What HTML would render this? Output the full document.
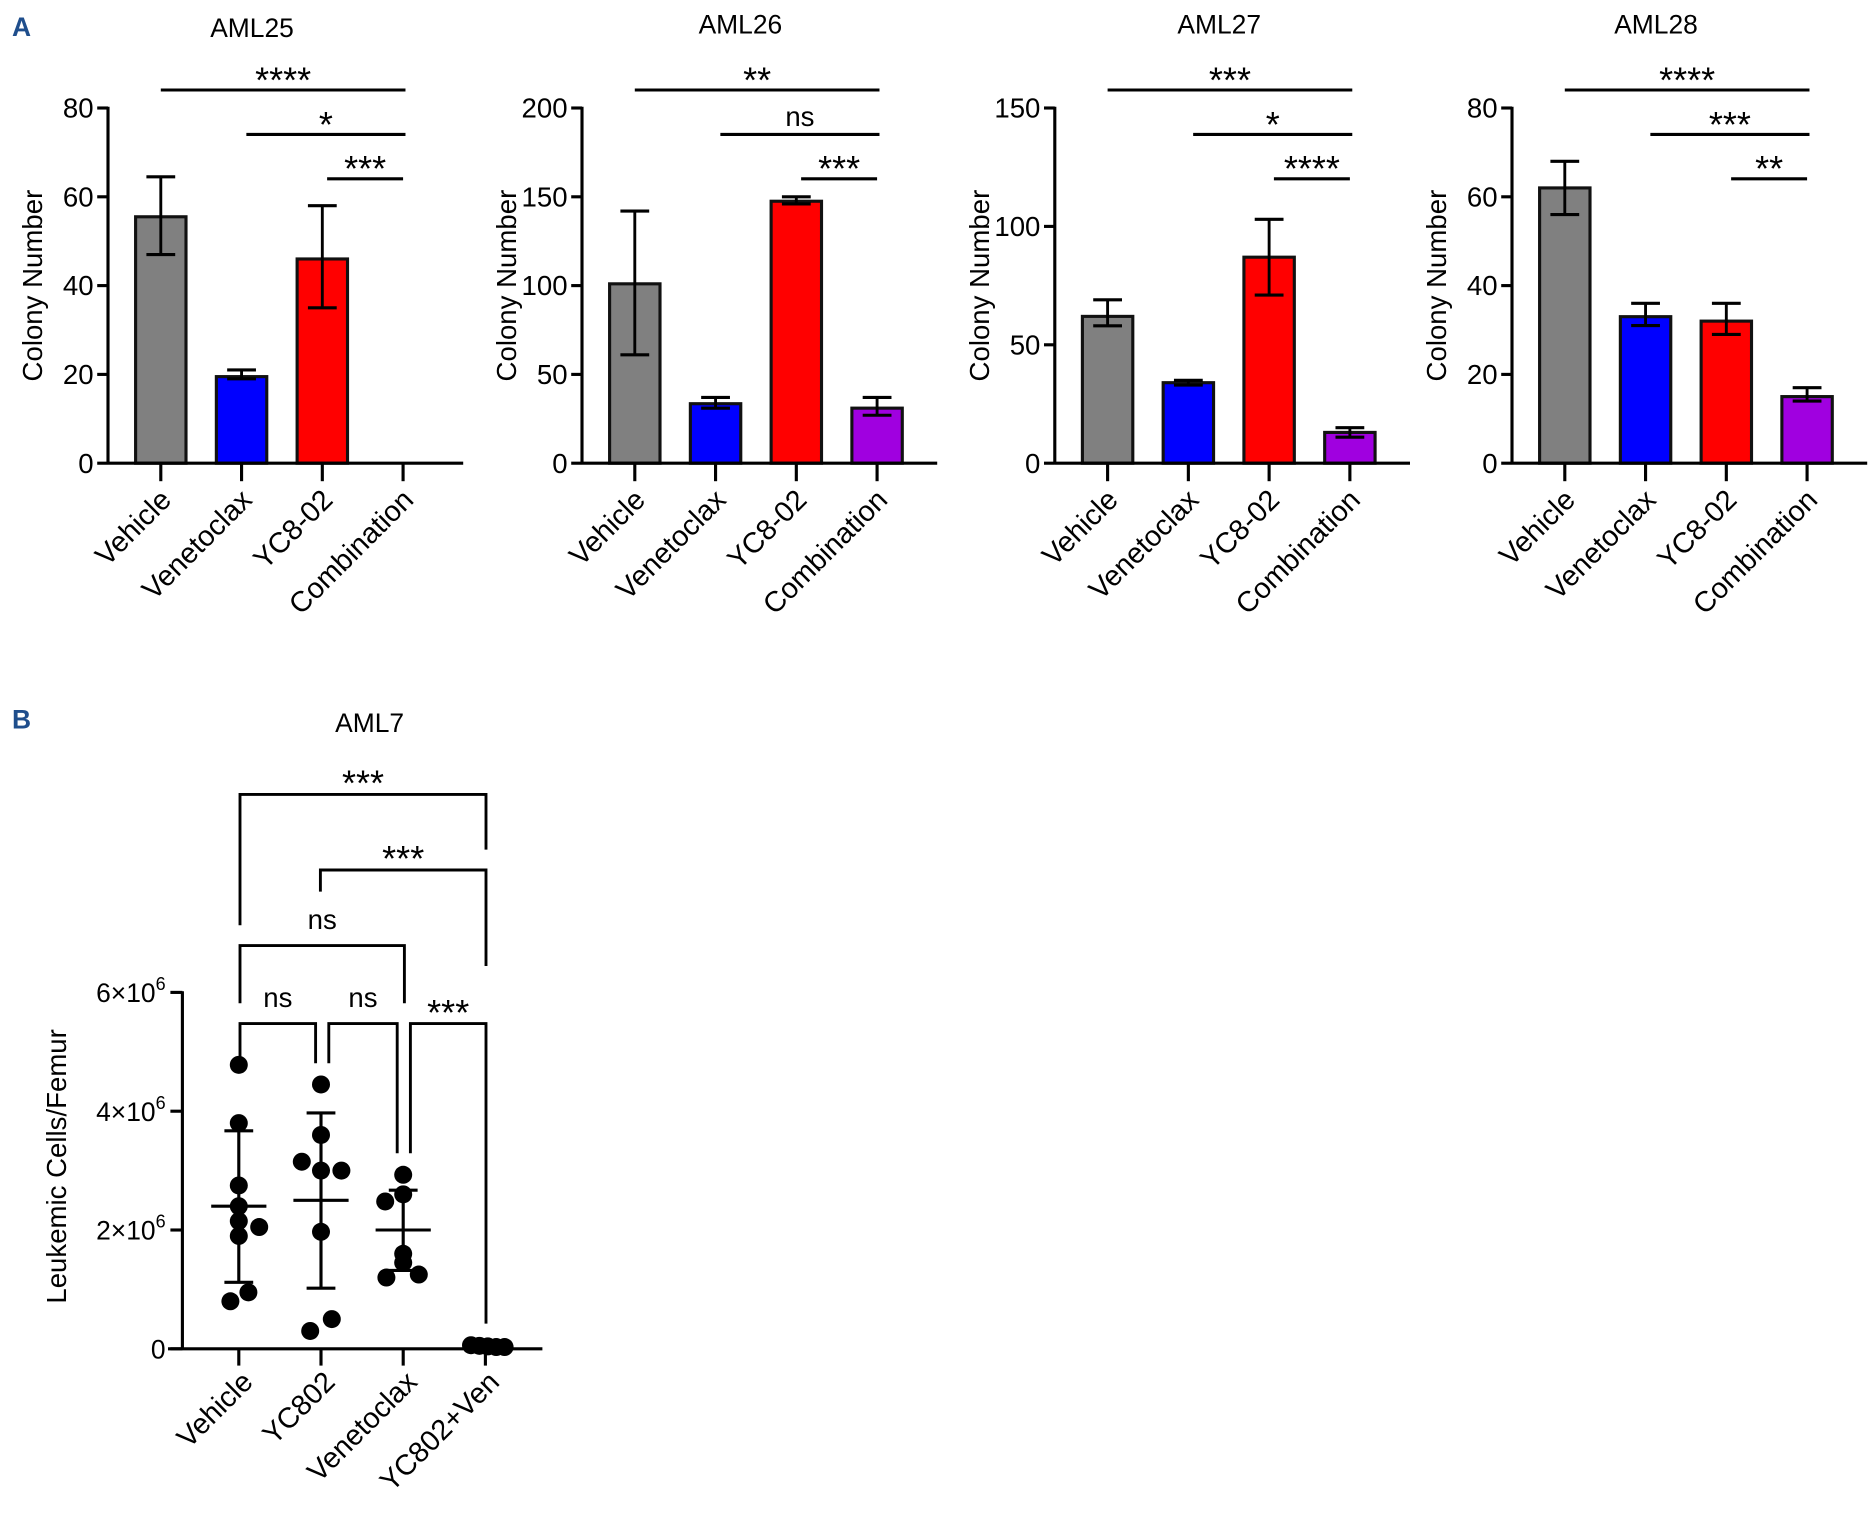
<!DOCTYPE html>
<html><head><meta charset="utf-8">
<style>
html,body{margin:0;padding:0;background:#fff;}
svg{display:block;font-family:"Liberation Sans",Arial,sans-serif;}
</style></head>
<body>
<svg id="fig" width="1875" height="1522" viewBox="0 0 1562.5 1268.33" xmlns="http://www.w3.org/2000/svg">
<text x="10" y="30" font-size="22" font-weight="bold" fill="#1f4e8c">A</text>
<text x="10" y="607" font-size="22" font-weight="bold" fill="#1f4e8c">B</text>
</svg>
<script>
// ---- Panel A data ----
const categoriesA = ["Vehicle","Venetoclax","YC8-02","Combination"];
const titlesA = ["AML25","AML26","AML27","AML28"];
const meansA = [[55.5,19.5,46,0],[101,33.5,147.5,31],[62,34,87,13],[62,33,32,15]];
const errLowA = [[47,19,35,0],[61,31,146,27],[58,33,71,11],[56,31,29,14]];
const errHighA = [[64.5,21,58,0],[142,37,150,37],[69,35,103,15],[68,36,36,17]];
const yMaxA = [80,200,150,80];
const yStepA = [20,50,50,20];
const sigLabelsA = [["****","*","***"],["**","ns","***"],["***","*","****"],["****","***","**"]];
const colorsA = ["#808080","#0000ff","#ff0000","#a000e0"];
// ---- Panel B data ----
const categoriesB = ["Vehicle","YC802","Venetoclax","YC802+Ven"];
const pointsB = [[4.78,3.8,2.75,2.4,2.15,1.9,2.05,0.8,0.95],[4.45,3.6,3.15,3.0,3.0,1.97,0.3,0.5],[2.93,2.6,2.48,1.6,1.45,1.2,1.25],[0.06,0.05,0.04,0.03,0.03]];
const meanB = [2.4,2.5,2.0,0.04];
const sdLowB = [1.12,1.02,1.32,0.02];
const sdHighB = [3.67,3.97,2.67,0.06];
const yTicksB = [0,2,4,6];
const sigLabelsB = ["***","***","ns","ns","ns","***"];

const SVGNS="http://www.w3.org/2000/svg";
const svgRoot=document.getElementById('fig');
function el(tag,attrs,parent){const e=document.createElementNS(SVGNS,tag);for(const k in attrs)e.setAttribute(k,attrs[k]);(parent||svgRoot).appendChild(e);return e;}
function line(x1,y1,x2,y2,w,p){return el('line',{x1,y1,x2,y2,stroke:'#000','stroke-width':w||2.6},p);}

const axisXA=[90,485,879,1260];
const titleXA=[210,617,1016,1380];
const plotTopA=90,plotBotA=386,spanA=67.3,barW=42;
for(let c=0;c<4;c++){
  const g=el('g',{});
  
  
  const ax=axisXA[c];
  const xs=i=>ax+44+i*spanA;
  const ys=v=>plotBotA-(v/yMaxA[c])*(plotBotA-plotTopA);
  const t=el('text',{x:titleXA[c],y:c==0?31:28,'font-size':22,'text-anchor':'middle'},g);t.textContent=titlesA[c];
  
  
  const yl=el('text',{transform:`translate(${ax-55},238) rotate(-90)`,'font-size':23,'text-anchor':'middle'},g);yl.textContent="Colony Number";
  
  
  for(let i=0;i<4;i++){
    const x=xs(i),y=ys(meansA[c][i]);
    if(meansA[c][i]>0){
      const r=el('rect',{x:x-barW/2,y:y,width:barW,height:plotBotA-y,fill:colorsA[i],stroke:'#111','stroke-width':2.6},g);
      
      
      line(x,ys(errLowA[c][i]),x,ys(errHighA[c][i]),2.4,g);
      line(x-12,ys(errLowA[c][i]),x+12,ys(errLowA[c][i]),2.6,g);
      line(x-12,ys(errHighA[c][i]),x+12,ys(errHighA[c][i]),2.6,g);
    }
    line(x,plotBotA,x,plotBotA+15,2.6,g);
    const lb=el('text',{transform:`translate(${x+10},${plotBotA+32}) rotate(-45)`,'font-size':24,'text-anchor':'end'},g);lb.textContent=categoriesA[i];
    
    
  }
  line(ax,plotTopA-1,ax,plotBotA+1,2.6,g);
  line(ax,plotBotA,ax+296,plotBotA,2.6,g);
  for(let v=0;v<=yMaxA[c];v+=yStepA[c]){
    line(ax-9,ys(v),ax,ys(v),2.6,g);
    const tl=el('text',{x:ax-12,y:ys(v)+8,'font-size':23,'text-anchor':'end'},g);tl.textContent=v;
    
    
  }
  const sigY=[75,112,149], sigFrom=[0,1,2];
  for(let k=0;k<3;k++){
    const x1=xs(sigFrom[k])+(k==0?0:4), x2=xs(3)+2-(k==2?2:0);
    line(x1,sigY[k],x2,sigY[k],2.6,g);
    const isNs=sigLabelsA[c][k]=='ns';
    const s=el('text',{x:(x1+x2)/2,y:sigY[k]-(isNs?7:-2),'font-size':isNs?23:30,'text-anchor':'middle'},g);
    s.textContent=sigLabelsA[c][k];
    
    
  }
}

// ---- Panel B ----
const gB=el('g',{});


const bx=152,bTop=827,bBot=1124;
const xb=i=>199+i*68.5;
const yb=v=>bBot-(v/6)*(bBot-bTop);
const tB=el('text',{x:308,y:610,'font-size':22,'text-anchor':'middle'},gB);tB.textContent="AML7";


const ylB=el('text',{transform:'translate(55,972) rotate(-90)','font-size':23,'text-anchor':'middle'},gB);ylB.textContent="Leukemic Cells/Femur";


line(bx,bTop-1,bx,bBot+1,2.6,gB);
line(140,bBot,452,bBot,2.6,gB);
yTicksB.forEach(v=>{
  line(bx-10,yb(v),bx,yb(v),2.6,gB);
  const tl=el('text',{x:138,y:yb(v)+8,'font-size':22,'text-anchor':'end'},gB);
  if(v===0){tl.textContent='0';}else{tl.textContent=v+'×10';const sp=el('tspan',{dy:-10,'font-size':15},tl);sp.textContent='6';}
  
  
});
const jitter=[[0,0,0,0,0,0,17,-7,8],[0,0,-16,0,17,0,-9,9],[0,0,-15,0,0,-14,13],[-12,-5,2,9,16]];
for(let i=0;i<4;i++){
  const x=xb(i);
  line(x,bBot,x,bBot+14,2.6,gB);
  pointsB[i].forEach((v,j)=>{
    const d=el('circle',{cx:x+(jitter[i][j]||0),cy:yb(v),r:7.5,fill:'#000'},gB);
    
    
  });
  if(i<3){
    line(x-23,yb(meanB[i]),x+23,yb(meanB[i]),2.6,gB);
    line(x,yb(sdLowB[i]),x,yb(sdHighB[i]),2.6,gB);
    line(x-12,yb(sdLowB[i]),x+12,yb(sdLowB[i]),2.6,gB);
    line(x-12,yb(sdHighB[i]),x+12,yb(sdHighB[i]),2.6,gB);
  }
  const lb=el('text',{transform:`translate(${x+13},${bBot+29}) rotate(-45)`,'font-size':24,'text-anchor':'end'},gB);lb.textContent=categoriesB[i];
  
  
}
const brackets=[[200,405,662,771,708],[267,405,725,743,805],[200,337,788,836,836],[200,263,853,886,886],[274,331,853,886,961],[342,405,853,961,1103]];
brackets.forEach((b,k)=>{
  const pl=el('polyline',{points:`${b[0]},${b[3]} ${b[0]},${b[2]} ${b[1]},${b[2]} ${b[1]},${b[4]}`,fill:'none',stroke:'#000','stroke-width':2.4},gB);
  
  
  const isNs=sigLabelsB[k]=='ns';
  const s=el('text',{x:(b[0]+b[1])/2,y:b[2]-(isNs?14:-1),'font-size':isNs?23:30,'text-anchor':'middle'},gB);
  s.textContent=sigLabelsB[k];
  
  
});
</script>
</body></html>
